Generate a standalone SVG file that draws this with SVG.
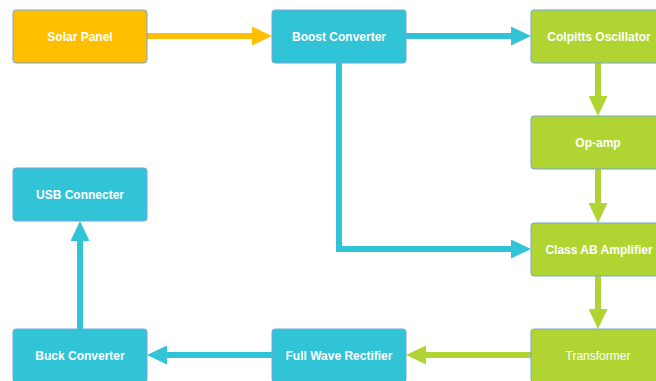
<svg xmlns="http://www.w3.org/2000/svg" width="656" height="381" viewBox="0 0 656 381">
<defs>
<style>
.box{stroke:#6fa8dc;stroke-width:1}
.o{fill:#ffbf00}
.c{fill:#31c3d6}
.g{fill:#b0d532}
.t{fill:#fff;font-family:"Liberation Sans",Arial,sans-serif;font-size:12px;font-weight:bold;text-anchor:middle;dominant-baseline:central}
.tn{font-weight:normal}
.ln{fill:none;stroke-width:6}
.lo{stroke:#ffbf00}
.lc{stroke:#31c3d6}
.lg{stroke:#b0d532}
</style>
<marker id="ao" viewBox="0 0 20 19" refX="0" refY="9.5" markerWidth="20" markerHeight="19" markerUnits="userSpaceOnUse" orient="auto"><path d="M0,0L20,9.5L0,19Z" fill="#ffbf00"/></marker>
<marker id="ac" viewBox="0 0 20 19" refX="0" refY="9.5" markerWidth="20" markerHeight="19" markerUnits="userSpaceOnUse" orient="auto"><path d="M0,0L20,9.5L0,19Z" fill="#31c3d6"/></marker>
<marker id="ag" viewBox="0 0 20 19" refX="0" refY="9.5" markerWidth="20" markerHeight="19" markerUnits="userSpaceOnUse" orient="auto"><path d="M0,0L20,9.5L0,19Z" fill="#b0d532"/></marker>
</defs>
<rect width="656" height="381" fill="#fff"/>
<g id="connectors">
<path class="ln lo" d="M147,36H252" marker-end="url(#ao)"/>
<path class="ln lc" d="M406,36H511" marker-end="url(#ac)"/>
<path class="ln lc" d="M339,63V249H511" marker-end="url(#ac)"/>
<path class="ln lg" d="M598,63V96" marker-end="url(#ag)"/>
<path class="ln lg" d="M598,169V203" marker-end="url(#ag)"/>
<path class="ln lg" d="M598,276V309" marker-end="url(#ag)"/>
<path class="ln lg" d="M531,355H426" marker-end="url(#ag)"/>
<path class="ln lc" d="M272,355H167" marker-end="url(#ac)"/>
<path class="ln lc" d="M80,329V241" marker-end="url(#ac)"/>
</g>
<g id="solar"><rect class="box o" x="13" y="10" width="134" height="53" rx="3"/><text class="t" x="80" y="36.5">Solar Panel</text></g>
<g id="boost"><rect class="box c" x="272" y="10" width="134" height="53" rx="3"/><text class="t" x="339" y="36.5">Boost Converter</text></g>
<g id="colpitts"><rect class="box g" x="531" y="10" width="134" height="53" rx="3"/><text class="t" x="599" y="36.5">Colpitts Oscillator</text></g>
<g id="opamp"><rect class="box g" x="531" y="116" width="134" height="53" rx="3"/><text class="t" x="598" y="143">Op-amp</text></g>
<g id="classab"><rect class="box g" x="531" y="223" width="134" height="53" rx="3"/><text class="t" x="599" y="249.5">Class AB Amplifier</text></g>
<g id="transformer"><rect class="box g" x="531" y="329" width="134" height="53" rx="3"/><text class="t tn" x="598" y="356">Transformer</text></g>
<g id="rectifier"><rect class="box c" x="272" y="329" width="134" height="53" rx="3"/><text class="t" x="339" y="356">Full Wave Rectifier</text></g>
<g id="buck"><rect class="box c" x="13" y="329" width="134" height="53" rx="3"/><text class="t" x="80" y="356">Buck Converter</text></g>
<g id="usb"><rect class="box c" x="13" y="168" width="134" height="53" rx="3"/><text class="t" x="80" y="195">USB Connecter</text></g>
</svg>
